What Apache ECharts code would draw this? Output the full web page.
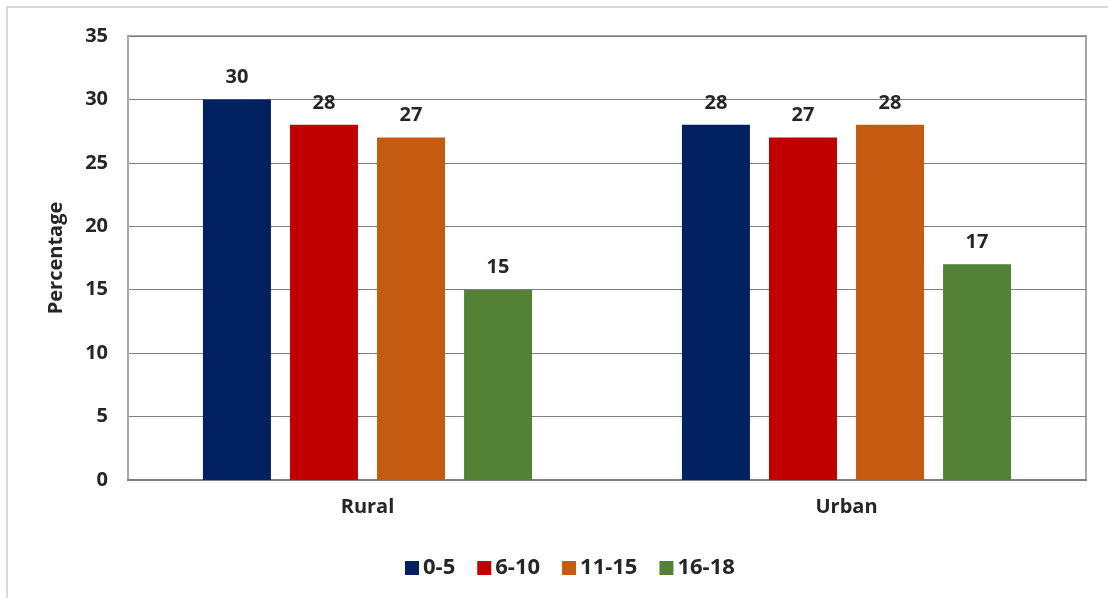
<!DOCTYPE html>
<html><head><meta charset="utf-8">
<script src="https://cdn.jsdelivr.net/npm/echarts@6/dist/echarts.min.js"></script>
<style>html,body{margin:0;padding:0;background:#fff}#c{width:1108px;height:598px}</style>
</head><body><div id="c"></div>
<script>
const categories = ['Rural', 'Urban'];
const seriesNames = ['0-5', '6-10', '11-15', '16-18'];
const s0_5 = [30, 28];
const s6_10 = [28, 27];
const s11_15 = [27, 28];
const s16_18 = [15, 17];
const yTicks = [0, 5, 10, 15, 20, 25, 30, 35];
const colors = ['#002060', '#c00000', '#c55a11', '#538135'];
const values = [s0_5, s6_10, s11_15, s16_18];
const font = '"Open Sans", "Liberation Sans", sans-serif';
const chart = echarts.init(document.getElementById('c'));
chart.setOption({
  animation: false,
  graphic: [{type: 'rect', shape: {x: 7, y: 7, width: 1200, height: 700}, style: {fill: 'none', stroke: '#d9d9d9', lineWidth: 2}, silent: true}],
  grid: {left: 128, right: 22, top: 36, bottom: 118, show: true, borderColor: '#a6a6a6', borderWidth: 2, backgroundColor: '#fff'},
  legend: {top: 552, left: 400, itemWidth: 14, itemHeight: 14, itemGap: 22, icon: 'rect',
    textStyle: {fontFamily: font, fontSize: 22, fontWeight: 'bold', color: '#262626', padding: [0,0,0,-1]}, data: seriesNames},
  xAxis: {type: 'category', data: categories, axisTick: {show: false},
    axisLine: {lineStyle: {color: '#7f7f7f', width: 2}},
    axisLabel: {margin: 17, fontFamily: font, fontSize: 20, fontWeight: 'bold', color: '#262626'}},
  yAxis: {type: 'value', min: yTicks[0], max: yTicks[yTicks.length-1], interval: 5,
    name: 'Percentage', nameLocation: 'middle', nameGap: 62, nameRotate: 90,
    nameTextStyle: {fontFamily: font, fontSize: 20, fontWeight: 'bold', color: '#262626'},
    axisLine: {show: true, lineStyle: {color: '#a6a6a6', width: 2}}, axisTick: {show: false},
    axisLabel: {margin: 20, fontFamily: font, fontSize: 20, fontWeight: 'bold', color: '#262626'},
    splitLine: {lineStyle: {color: '#7f7f7f', width: 1}}},
  series: seriesNames.map((n, i) => ({
    name: n, type: 'bar', data: values[i], barWidth: 68, barGap: '28%',
    itemStyle: {color: colors[i]},
    label: {show: true, position: 'top', distance: 12, fontFamily: font, fontSize: 20, fontWeight: 'bold', color: '#262626'}
  }))
});
</script></body></html>
